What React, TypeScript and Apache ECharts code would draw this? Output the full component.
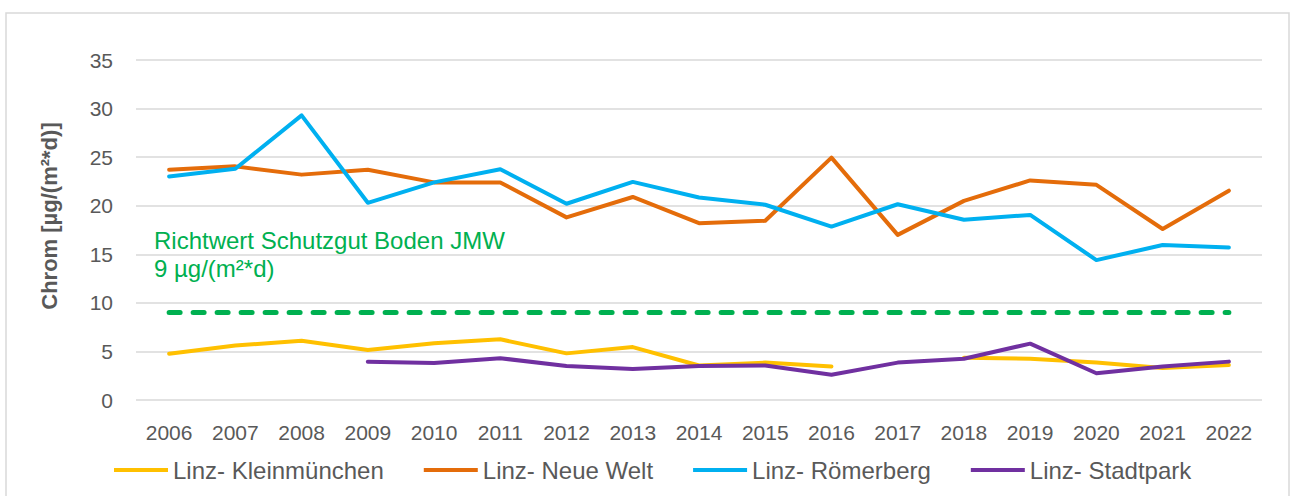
import React, { useEffect, useRef } from "react";
import * as echarts from "echarts";

const years = ["2006", "2007", "2008", "2009", "2010", "2011", "2012", "2013", "2014", "2015", "2016", "2017", "2018", "2019", "2020", "2021", "2022"];

const kleinmuenchen = [4.75, 5.6, 6.1, 5.15, 5.85, 6.25, 4.8, 5.45, 3.55, 3.85, 3.45, null, 4.35, 4.25, 3.85, 3.3, 3.6];
const neueWelt = [23.7, 24.05, 23.2, 23.7, 22.4, 22.4, 18.8, 20.9, 18.2, 18.45, 24.95, 17.0, 20.5, 22.6, 22.15, 17.6, 21.55];
const roemerberg = [23.0, 23.8, 29.3, 20.3, 22.4, 23.75, 20.2, 22.45, 20.85, 20.1, 17.85, 20.15, 18.55, 19.05, 14.4, 15.95, 15.7];
const stadtpark = [null, null, null, 3.95, 3.8, 4.3, 3.5, 3.2, 3.5, 3.55, 2.6, 3.85, 4.25, 5.8, 2.75, 3.45, 3.95];
const richtwert = years.map(() => 9);

const seriesNames = ["Linz- Kleinmünchen", "Linz- Neue Welt", "Linz- Römerberg", "Linz- Stadtpark"];
const colors = ["#FFC000", "#E46C0A", "#00B0F0", "#7030A0"];
const annotationLines = ["Richtwert Schutzgut Boden JMW", "9 µg/(m²*d)"];
const yAxisTitle = "Chrom [µg/(m²*d)]";

export default function App() {
  const ref = useRef<HTMLDivElement>(null);

  useEffect(() => {
    if (!ref.current) return;
    const chart = echarts.init(ref.current, undefined, { renderer: "svg" });
    const font = "Liberation Sans, Arial, sans-serif";
    const dataSets = [kleinmuenchen, neueWelt, roemerberg, stadtpark];
    chart.setOption({
      animation: false,
      backgroundColor: "#ffffff",
      textStyle: { fontFamily: font },
      grid: { left: 136, right: 30, top: 60, bottom: 96, containLabel: false },
      legend: {
        data: seriesNames,
        left: 109,
        top: 453,
        itemGap: 40,
        itemWidth: 54,
        itemHeight: 4,
        icon: "rect",
        textStyle: { color: "#595959", fontSize: 24, fontFamily: font },
      },
      xAxis: {
        type: "category",
        data: years,
        boundaryGap: true,
        axisLine: { show: false },
        axisTick: { show: false },
        axisLabel: { color: "#595959", fontSize: 21, margin: 22, fontFamily: font },
      },
      yAxis: {
        type: "value",
        min: 0,
        max: 35,
        interval: 5,
        axisLine: { show: false },
        axisTick: { show: false },
        axisLabel: { color: "#595959", fontSize: 21, margin: 23, fontFamily: font },
        splitLine: { lineStyle: { color: "#D9D9D9", width: 1.5 } },
      },
      series: [
        ...dataSets.map((d, i) => ({
          name: seriesNames[i],
          type: "line",
          data: d,
          symbol: "none",
          connectNulls: false,
          lineStyle: { color: colors[i], width: 4, cap: "round", join: "round" },
          itemStyle: { color: colors[i] },
          z: 3,
        })),
        {
          name: "Richtwert",
          type: "line",
          data: richtwert,
          symbol: "none",
          lineStyle: { color: "#00B050", width: 5, type: [11, 13], cap: "round" },
          itemStyle: { color: "#00B050" },
          z: 2,
        },
      ],
      graphic: [
        {
          type: "rect",
          shape: { x: 6, y: 13, width: 1283, height: 520 },
          style: { fill: "none", stroke: "#D9D9D9", lineWidth: 1.5 },
          silent: true,
        },
        {
          type: "text",
          left: 154,
          top: 226,
          style: {
            text: annotationLines.join("\n"),
            fill: "#00B050",
            fontSize: 24,
            lineHeight: 28,
            fontFamily: font,
          },
        },
        {
          type: "text",
          x: 49,
          y: 216,
          rotation: Math.PI / 2,
          style: {
            text: yAxisTitle,
            fill: "#595959",
            fontSize: 22,
            fontWeight: "bold",
            fontFamily: font,
            align: "center",
            verticalAlign: "middle",
          },
        },
      ],
    });
    return () => chart.dispose();
  }, []);

  return (
    <div
      ref={ref}
      style={{ position: "fixed", left: 0, top: 0, width: 1292, height: 496, background: "#fff" }}
    />
  );
}
